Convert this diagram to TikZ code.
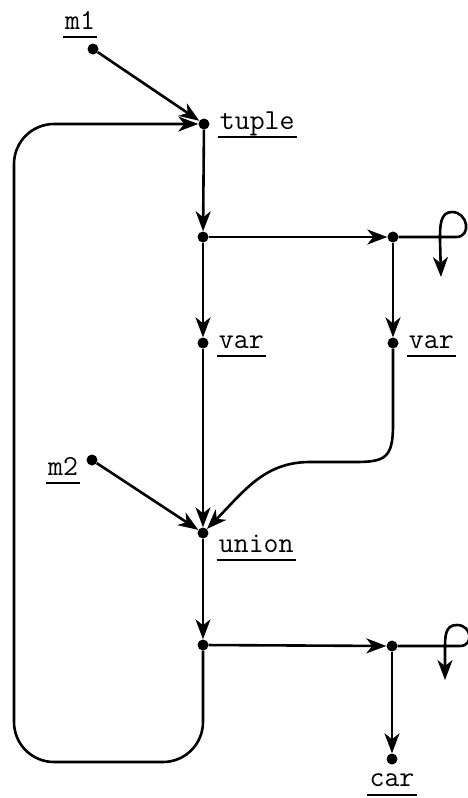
\documentclass[tikz,border=0pt]{standalone}
\usetikzlibrary{arrows.meta, positioning}

\begin{document}
\begin{tikzpicture}[
x=1pt, y=-1pt,
dot/.style={circle, fill, inner sep=0pt, minimum size=11pt},
lbl/.style={font=\ttfamily\fontsize{29}{34}\selectfont, inner sep=2pt, text height=16pt, text depth=6pt,
  append after command={(\tikzlastnode.south west) edge[line width=1.8pt] (\tikzlastnode.south east)}},
arr/.style={-{Stealth[length=20pt, width=15pt, inset=6pt]}, line width=2.6pt}
]
\useasboundingbox (0,0) rectangle (468,798);

\node[dot] (m1) at (93,49) {};
\node[dot] (tuple) at (204,124) {};
\node[dot] (fork1) at (203,237) {};
\node[dot] (dup1) at (393,237) {};
\node[dot] (var1) at (203,343) {};
\node[dot] (var2) at (393,343) {};
\node[dot] (m2) at (92,460) {};
\node[dot] (union) at (203,533) {};
\node[dot] (fork2) at (203,645) {};
\node[dot] (dup2) at (392,646) {};
\node[dot] (car) at (392,759) {};
\coordinate (corner) at (14,762);
\coordinate (out1) at (441,277);
\coordinate (out2) at (445,680);

% labels
\node[lbl, above=6pt of m1, xshift=-13pt] (m1-l) {m1};
\node[lbl, right=8pt of tuple] (tuple-l) {tuple};
\node[lbl, right=8pt of var1] (var1-l) {var};
\node[lbl, right=8pt of var2] (var2-l) {var};
\node[lbl, left=6pt of m2, yshift=-10pt] (m2-l) {m2};
\node[lbl, right=8pt of union, yshift=-14pt] (union-l) {union};
\node[lbl, below=4pt of car] (car-l) {car};

\draw[arr] (m1) -- (tuple);
\draw[arr] (tuple) -- (fork1);
\draw[arr] (fork1) -- (dup1);
\draw[arr] (fork1) -- (var1);
\draw[arr] (dup1) -- (var2);
\draw[arr] (var1) -- (union);
\draw[arr] (m2) -- (union);
\draw[arr] (var2) -- (393,425) .. controls (393,458) and (385,462) .. (355,462)
  -- (310,462) .. controls (265,462) and (245,490) .. (union);
\draw[arr] (union) -- (fork2);
\draw[arr] (fork2) -- (dup2);
\draw[arr] (dup2) -- (car);

% back edge round the left side
\draw[arr, rounded corners=40pt] (fork2) |- (corner) |- (tuple);

% little loops
\draw[arr] (dup1) -- (456,237) .. controls (472,237) and (468,212) .. (452,212)
  .. controls (440,212) and (440,226) .. (440,240) -- (out1);
\draw[arr] (dup2) -- (460,646) .. controls (474,646) and (472,625) .. (457,625)
  .. controls (445,625) and (445,636) .. (445,650) -- (out2);
\end{tikzpicture}
\end{document}
